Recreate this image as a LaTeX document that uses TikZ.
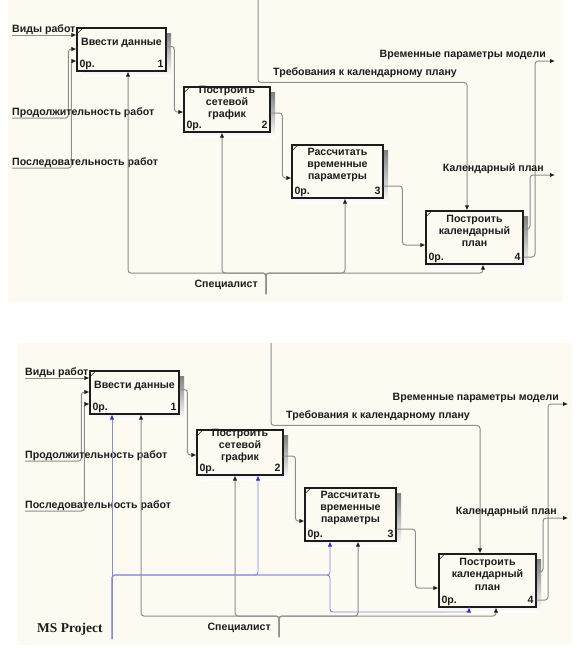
\documentclass[tikz,border=0pt]{standalone}
\usepackage{fontspec}
\setmainfont{Liberation Sans}
\newfontfamily\projserif{Liberation Serif}
\usetikzlibrary{arrows.meta,calc}
\definecolor{ink}{HTML}{1C1C1C}
\definecolor{wire}{HTML}{8E8E8E}
\definecolor{sheet}{HTML}{FCFAF1}
\definecolor{shade}{HTML}{C2C2C2}
\definecolor{mspline}{HTML}{8888D6}
\definecolor{msptip}{HTML}{2B2BD8}
\newcommand{\boxfont}{\fontsize{10.6}{12.4}\selectfont\bfseries}
\newcommand{\arrowfont}{\fontsize{10.6}{12}\selectfont\bfseries}
\newcommand{\projfont}{\projserif\fontsize{13.5}{14}\selectfont\bfseries}
\tikzset{
  fnbox/.style={draw=ink, line width=1.2pt, fill=sheet, inner sep=0pt},
  boxtext/.style={text=ink, font=\boxfont, align=center, inner sep=0pt},
  arrowlabel/.style={text=ink, font=\arrowfont, inner sep=0pt},
  flow/.style={wire, line width=1pt, rounded corners=3pt, -{Latex[length=5pt,width=4.5pt,color=ink]}},
  msflow/.style={mspline, line width=0.9pt, rounded corners=3pt, -{Latex[length=5pt,width=4.5pt,color=msptip]}},
}
% #1 name, #2 x centre, #3 y centre, #4 width, #5 height, #6 text, #7 number
\newcommand{\funcbox}[7]{%
  \fill[shade] ({#2-#4/2+5},{#3-#5/2+5}) rectangle ({#2+#4/2+5},{#3+#5/2+5});
  \node[fnbox, minimum width=#4, minimum height=#5] (#1) at ({#2},{#3}) {};
  \draw[ink, line width=0.6pt] ($(#1.north west)+(1,6)$) -- ($(#1.north west)+(6,1)$);
  \node[boxtext] (#1-txt) at ($(#1.center)+(0,-6.5)$) {#6};
  \node[boxtext, anchor=base west] (#1-ref) at ($(#1.south west)+(3,-4)$) {0р.};
  \node[boxtext, anchor=base east] (#1-num) at ($(#1.south east)+(-3,-4)$) {#7};
}
% #1,#2 offset of the whole model
\newcommand{\idefmodel}[2]{%
  \funcbox{b1}{#1+121.5}{#2+49.5}{89}{43}{Ввести данные}{1}
  \funcbox{b2}{#1+227}{#2+109.5}{86}{45}{Построить\\сетевой\\график}{2}
  \funcbox{b3}{#1+337.5}{#2+171.5}{91}{53}{Рассчитать\\временные\\параметры}{3}
  \funcbox{b4}{#1+474.5}{#2+237.5}{97}{53}{Построить\\календарный\\план}{4}
  % inputs
  \coordinate (iVid) at ({#1+12},{#2+35});
  \coordinate (iDur) at ({#1+12},{#2+118});
  \coordinate (iSeq) at ({#1+12},{#2+168});
  \draw[flow] (iVid) -- (iVid -| b1.west);
  \draw[flow] (iDur) -| ($(b1.west)+(-8,-0.5)$) -- ($(b1.west)+(0,-0.5)$);
  \draw[flow] (iSeq) -| ($(b1.west)+(-5,11.5)$) -- ($(b1.west)+(0,11.5)$);
  \node[arrowlabel, anchor=base west] (tVid) at ($(iVid)+(0,-3)$) {Виды работ};
  \node[arrowlabel, anchor=base west] (tDur) at ($(iDur)+(0,-3)$) {Продолжительность работ};
  \node[arrowlabel, anchor=base west] (tSeq) at ($(iSeq)+(0,-3)$) {Последовательность работ};
  % box to box
  \draw[flow] ($(b1.east)+(0,-3)$) -| ($(b2.west)+(-9,2.5)$) -- ($(b2.west)+(0,2.5)$);
  \draw[flow] ($(b2.east)+(0,3.5)$) -| ($(b3.west)+(-9,6.5)$) -- ($(b3.west)+(0,6.5)$);
  \draw[flow] ($(b3.east)+(0,14.5)$) -| ($(b4.west)+(-23,7.5)$) -- ($(b4.west)+(0,7.5)$);
  % control
  \coordinate (cTop) at ({#1+258},{#2});
  \draw[flow] (cTop) |- ($(b4.north)+(-7.5,-128)$) -- ($(b4.north)+(-7.5,0)$);
  \node[arrowlabel, anchor=base west] (tReq) at ({#1+273},{#2+75}) {Требования к календарному плану};
  % outputs
  \coordinate (oTime) at ({#1+555},{#2+61});
  \coordinate (oCal) at ({#1+555},{#2+175});
  \draw[flow] ($(b4.east)+(0,-8.5)$) -| ($(oCal)+(-25,0)$) -- (oCal);
  \draw[flow] ($(b4.east)+(0,19.5)$) -| ($(oTime)+(-20,0)$) -- (oTime);
  \node[arrowlabel, anchor=base east] (tTime) at ($(oTime)+(-9,-4)$) {Временные параметры модели};
  \node[arrowlabel, anchor=base east] (tCal) at ($(oCal)+(-11,-4)$) {Календарный план};
  % mechanism
  \coordinate (mStem) at ({#1+266},{#2+294});
  \coordinate (mBus) at ({#1},{#2+273});
  \foreach \port/\dx in {b1/6.5,b2/-5,b3/7.5,b4/8.5}
    \draw[flow] (mStem) -- (mStem |- mBus) -| ($(\port.south)+(\dx,0)$);
  \node[arrowlabel, anchor=base east] (tSpec) at ({#1+258},{#2+287}) {Специалист};
}

\begin{document}
\begin{tikzpicture}[x=1pt,y=-1pt]
  \useasboundingbox (0,0) rectangle (577,651);
  \fill[white] (0,0) rectangle (577,651);

  % Upper model
  \fill[sheet] (8,0) rectangle (562,302);
  \begin{scope}[name prefix=up-]
    \idefmodel{0}{0}
  \end{scope}

  % Lower model with the MS Project mechanism
  \fill[sheet] (17,343) rectangle (572,645);
  \begin{scope}[name prefix=lo-]
    \idefmodel{13}{343}
    \coordinate (sStem) at (112,639);
    \coordinate (sBus) at (0,575);
    \coordinate (sLow) at (0,612);
    \coordinate (s1) at ($(b1.south)+(-22.5,0)$);
    \coordinate (s2) at ($(b2.south)+(18,0)$);
    \coordinate (s3) at ($(b3.south)+(-20.5,0)$);
    \coordinate (s4) at ($(b4.south)+(-18.5,0)$);
    \coordinate (sDrop) at (s3 |- sLow);
    \draw[msflow] (sStem) -- (s1);
    \draw[msflow] (sStem) -- (sStem |- sBus) -| (s2);
    \draw[msflow] (sStem) -- (sStem |- sBus) -| (s3);
    \draw[msflow] (sStem) -- (sStem |- sBus) -| (sDrop) -| (s4);
    \node[anchor=base west, text=ink, font=\projfont, inner sep=0pt] (tProj) at (37,632) {MS Project};
  \end{scope}
\end{tikzpicture}
\end{document}
